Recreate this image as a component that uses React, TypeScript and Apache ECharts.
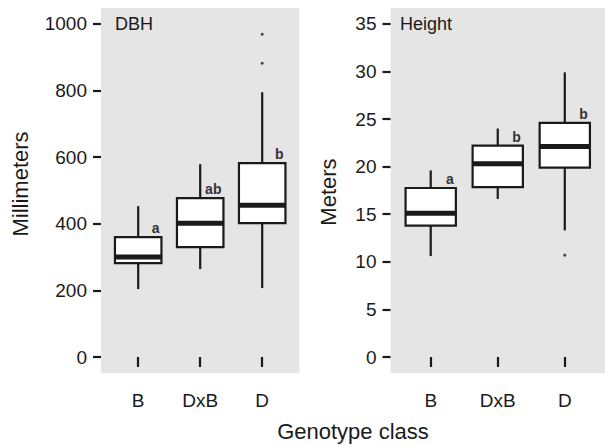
import React, { useEffect, useRef } from "react";
import * as echarts from "echarts";

const categories = ["B", "DxB", "D"];
// DBH (mm): [lower whisker, Q1, median, Q3, upper whisker]
const dbhLow = [204, 264, 207];
const dbhQ1 = [282, 330, 402];
const dbhMed = [300, 402, 456];
const dbhQ3 = [360, 477, 582];
const dbhHigh = [453, 579, 795];
const dbhOutliers = [[3, 969], [3, 882]];
const dbhLetters = ["a", "ab", "b"];
// Height (m)
const htLow = [10.6, 16.6, 13.3];
const htQ1 = [13.8, 17.85, 19.9];
const htMed = [15.1, 20.3, 22.1];
const htQ3 = [17.75, 22.2, 24.6];
const htHigh = [19.6, 24.0, 29.9];
const htOutliers = [[3, 10.7]];
const htLetters = ["a", "b", "b"];
const dbhTicks = [0, 200, 400, 600, 800, 1000];
const htTicks = [0, 5, 10, 15, 20, 25, 30, 35];

const FONT = "'Liberation Sans', Arial, Helvetica, sans-serif";
const INK = "#1a1a1a";

function boxData(lo: number[], q1: number[], med: number[], q3: number[], hi: number[]) {
  return categories.map((_, i) => [i + 1, lo[i], q1[i], med[i], q3[i], hi[i]]);
}

function makeRender(letters: string[]) {
  return (params: any, api: any) => {
    const x = api.value(0);
    const lo = api.value(1), q1 = api.value(2), med = api.value(3), q3 = api.value(4), hi = api.value(5);
    const [xl, yq3] = api.coord([x - 0.375, q3]);
    const [xr, yq1] = api.coord([x + 0.375, q1]);
    const [xc, ylo] = api.coord([x, lo]);
    const yhi = api.coord([x, hi])[1];
    const ymed = api.coord([x, med])[1];
    const st = { stroke: INK, lineWidth: 2.2, fill: null };
    return {
      type: "group",
      children: [
        { type: "line", shape: { x1: xc, y1: yhi, x2: xc, y2: yq3 }, style: st },
        { type: "line", shape: { x1: xc, y1: yq1, x2: xc, y2: ylo }, style: st },
        { type: "rect", shape: { x: xl, y: yq3, width: xr - xl, height: yq1 - yq3 }, style: { fill: "#fff", stroke: INK, lineWidth: 2.2 } },
        { type: "line", shape: { x1: xl, y1: ymed, x2: xr, y2: ymed }, style: { stroke: INK, lineWidth: 5 } },
        {
          type: "text",
          style: {
            text: letters[params.dataIndex],
            x: xr - 2,
            y: yq3 - 2,
            align: "right",
            verticalAlign: "bottom",
            font: `bold 14px ${FONT}`,
            fill: "#333",
          },
        },
      ],
    };
  };
}

function xAxisCfg(gridIndex: number) {
  return {
    type: "value",
    gridIndex,
    min: 0.4,
    max: 3.6,
    axisLine: { show: false },
    splitLine: { show: false },
    axisTick: { show: true, length: 10, customValues: [1, 2, 3], lineStyle: { color: INK, width: 2.2 } },
    axisLabel: {
      customValues: [1, 2, 3],
      formatter: (v: number) => categories[Math.round(v) - 1] ?? "",
      margin: 18,
      fontSize: 19,
      fontFamily: FONT,
      color: INK,
    },
  };
}

function yAxisCfg(gridIndex: number, min: number, max: number, ticks: number[]) {
  return {
    type: "value",
    gridIndex,
    min,
    max,
    axisLine: { show: false },
    splitLine: { show: false },
    axisTick: { show: true, length: 8, customValues: ticks, lineStyle: { color: INK, width: 2.2 } },
    axisLabel: {
      customValues: ticks,
      formatter: (v: number) => String(v),
      margin: 14,
      fontSize: 19,
      fontFamily: FONT,
      color: INK,
    },
  };
}

export default function App() {
  const ref = useRef<HTMLDivElement>(null);
  useEffect(() => {
    if (!ref.current) return;
    const chart = echarts.init(ref.current, null, { renderer: "svg" });
    chart.setOption({
      animation: false,
      grid: [
        { left: 101, top: 8, width: 198.4, height: 365, show: true, backgroundColor: "#e5e5e5", borderWidth: 0 },
        { left: 390.5, top: 8, width: 219, height: 365, show: true, backgroundColor: "#e5e5e5", borderWidth: 0 },
      ],
      xAxis: [xAxisCfg(0), xAxisCfg(1)],
      yAxis: [yAxisCfg(0, -48, 1048, dbhTicks), yAxisCfg(1, -1.68, 36.66, htTicks)],
      series: [
        {
          type: "custom",
          xAxisIndex: 0,
          yAxisIndex: 0,
          renderItem: makeRender(dbhLetters),
          encode: { x: 0, y: [1, 2, 3, 4, 5] },
          data: boxData(dbhLow, dbhQ1, dbhMed, dbhQ3, dbhHigh),
        },
        {
          type: "scatter",
          xAxisIndex: 0,
          yAxisIndex: 0,
          symbolSize: 3,
          itemStyle: { color: INK },
          data: dbhOutliers,
        },
        {
          type: "custom",
          xAxisIndex: 1,
          yAxisIndex: 1,
          renderItem: makeRender(htLetters),
          encode: { x: 0, y: [1, 2, 3, 4, 5] },
          data: boxData(htLow, htQ1, htMed, htQ3, htHigh),
        },
        {
          type: "scatter",
          xAxisIndex: 1,
          yAxisIndex: 1,
          symbolSize: 3,
          itemStyle: { color: INK },
          data: htOutliers,
        },
      ],
      graphic: [
        { type: "text", left: 115, top: 15, style: { text: "DBH", font: `18px ${FONT}`, fill: INK } },
        { type: "text", left: 400, top: 15, style: { text: "Height", font: `18px ${FONT}`, fill: INK } },
        {
          type: "text",
          x: 20,
          y: 184,
          rotation: Math.PI / 2,
          style: { text: "Millimeters", font: `22px ${FONT}`, fill: INK, align: "center", verticalAlign: "middle" },
        },
        {
          type: "text",
          x: 328,
          y: 192,
          rotation: Math.PI / 2,
          style: { text: "Meters", font: `22px ${FONT}`, fill: INK, align: "center", verticalAlign: "middle" },
        },
        {
          type: "text",
          x: 353,
          y: 431,
          style: { text: "Genotype class", font: `22px ${FONT}`, fill: INK, align: "center", verticalAlign: "middle" },
        },
      ],
    });
    return () => chart.dispose();
  }, []);
  return <div ref={ref} style={{ position: "fixed", left: 0, top: 0, width: 605, height: 445, background: "#fff" }} />;
}
